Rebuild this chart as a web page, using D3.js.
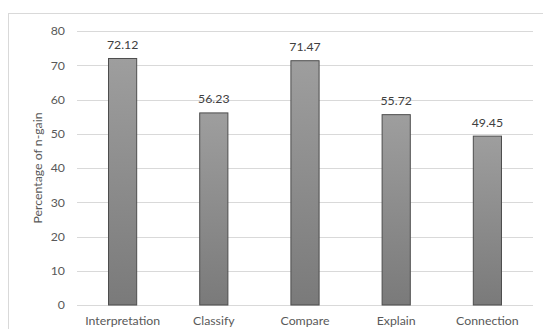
<!DOCTYPE html>
<html>
<head>
<meta charset="utf-8">
<script src="https://cdn.jsdelivr.net/npm/d3@7/dist/d3.min.js"></script>
<style>
  html, body { margin: 0; padding: 0; background: #fff; }
  svg { display: block; font-family: Lato, "Open Sans", sans-serif; }
</style>
</head>
<body>
<svg id="chart" width="543" height="329"></svg>
<script>
const categories = ["Interpretation", "Classify", "Compare", "Explain", "Connection"];
const values = [72.12, 56.23, 71.47, 55.72, 49.45];
const yTicks = [0, 10, 20, 30, 40, 50, 60, 70, 80];
const yTitle = "Percentage of n-gain";

const svg = d3.select("#chart");
const W = 543, H = 329;
const m = { left: 77, right: 10, top: 31, bottom: 24 };
const fontSize = "12.3px";

// outer frame
svg.append("rect")
  .attr("x", 8.5).attr("y", 13.5)
  .attr("width", W + 10).attr("height", H + 10)
  .attr("fill", "#fff").attr("stroke", "#d9d9d9");

const x = d3.scaleBand().domain(categories)
  .range([m.left, W - m.right]).paddingInner(0.68).paddingOuter(0.34);
const y = d3.scaleLinear().domain([0, 80]).range([H - m.bottom, m.top]);

const defs = svg.append("defs");
const grad = defs.append("linearGradient").attr("id", "barGrad")
  .attr("x1", 0).attr("y1", 0).attr("x2", 0).attr("y2", 1);
grad.append("stop").attr("offset", "0%").attr("stop-color", "#9e9e9e");
grad.append("stop").attr("offset", "100%").attr("stop-color", "#7a7a7a");

// gridlines
svg.append("g")
  .selectAll("line").data(yTicks).join("line")
  .attr("x1", m.left).attr("x2", W - m.right)
  .attr("y1", d => Math.round(y(d)) + 0.5).attr("y2", d => Math.round(y(d)) + 0.5)
  .attr("stroke", "#d9d9d9").attr("stroke-width", 1);

// y axis labels
const yAxis = d3.axisLeft(y).tickValues(yTicks).tickSize(0).tickPadding(0);
const yg = svg.append("g").attr("transform", `translate(${m.left - 12},0)`).call(yAxis);
yg.select(".domain").remove();
yg.selectAll("text").attr("fill", "#595959").style("font-size", fontSize)
  .style("font-family", "Lato, 'Open Sans', sans-serif");

// x axis labels
const xAxis = d3.axisBottom(x).tickSize(0).tickPadding(0);
const xg = svg.append("g").attr("transform", `translate(0,${H - m.bottom + 11})`).call(xAxis);
xg.select(".domain").remove();
xg.selectAll("text").attr("fill", "#595959").style("font-size", fontSize)
  .style("font-family", "Lato, 'Open Sans', sans-serif");

// bars
svg.append("g").selectAll("rect").data(values).join("rect")
  .attr("x", (d, i) => x(categories[i]) + 0.5)
  .attr("y", d => y(d) + 0.5)
  .attr("width", x.bandwidth() - 1)
  .attr("height", d => y(0) - y(d) - 0.5)
  .attr("fill", "url(#barGrad)")
  .attr("stroke", "#4d4d4d").attr("stroke-width", 1);

// value labels
svg.append("g").selectAll("text").data(values).join("text")
  .attr("x", (d, i) => x(categories[i]) + x.bandwidth() / 2)
  .attr("y", d => y(d) - 9)
  .attr("text-anchor", "middle")
  .attr("fill", "#404040").style("font-size", fontSize)
  .text(d => d.toFixed(2));

// y axis title
svg.append("text")
  .attr("transform", `translate(42,${(m.top + H - m.bottom) / 2}) rotate(-90)`)
  .attr("text-anchor", "middle")
  .attr("fill", "#595959").style("font-size", fontSize)
  .text(yTitle);
</script>
</body>
</html>
